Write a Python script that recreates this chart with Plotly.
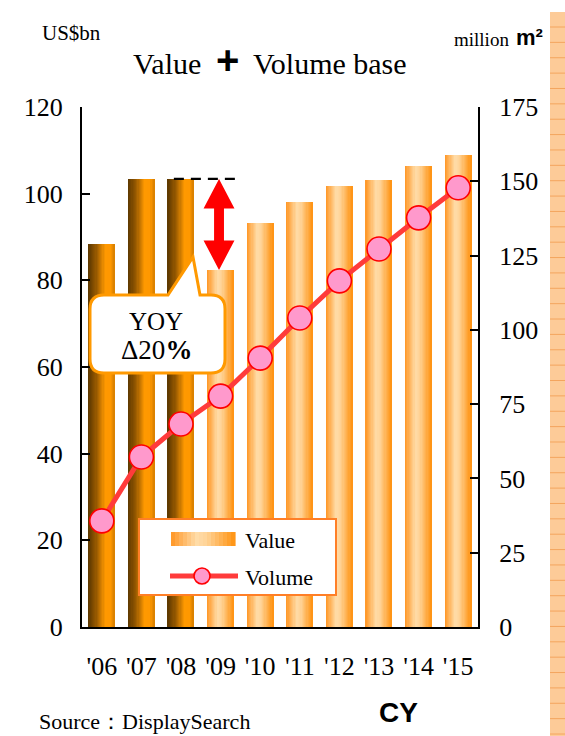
import plotly.graph_objects as go

# ---- data -------------------------------------------------------------
years = ["'06", "'07", "'08", "'09", "'10", "'11", "'12", "'13", "'14", "'15"]
value_usd_bn = [88.4, 103.5, 103.4, 82.4, 93.3, 98.1, 101.8, 103.2, 106.4, 108.9]
volume_mm2 = [35.7, 57.2, 68.3, 77.7, 90.5, 104.0, 116.5, 127.2, 137.7, 147.8]
actual = [True, True, True, False, False, False, False, False, False, False]
left_ticks = [0, 20, 40, 60, 80, 100, 120]
right_ticks = [0, 25, 50, 75, 100, 125, 150, 175]
yoy_label = "YOY"
yoy_change = "Δ20<b>%</b>"

# ---- page geometry ----------------------------------------------------
W, H = 565, 736
L, R, T, B = 82, 87, 107, 109
PW, PH = W - L - R, H - T - B
SERIF = "Liberation Serif"
SANS = "Liberation Sans"


def px(x):
    return (x - L) / PW


def py(y):
    return (H - B - y) / PH


def blend(stops, t):
    for (p0, c0), (p1, c1) in zip(stops, stops[1:]):
        if p0 <= t <= p1:
            f = (t - p0) / (p1 - p0) if p1 > p0 else 0
            r, g, b = (round(a + (bb - a) * f) for a, bb in zip(c0, c1))
            return f"rgb({r},{g},{b})"
    c = stops[-1][1]
    return f"rgb({c[0]},{c[1]},{c[2]})"


def label(x, y, text, size, family=SERIF, xanchor="center"):
    return dict(x=px(x), y=py(y), xref="paper", yref="paper", text=text,
                showarrow=False, xanchor=xanchor, yanchor="middle",
                font=dict(family=family, size=size, color="black"))


DARK = [(0.0, (92, 56, 0)), (0.3, (150, 88, 0)), (0.65, (255, 153, 0)),
        (0.85, (255, 152, 0)), (1.0, (214, 126, 0))]
LIGHT = [(0.0, (255, 150, 36)), (0.4, (255, 220, 168)), (0.55, (255, 212, 152)),
         (1.0, (255, 146, 16))]

fig = go.Figure()

# ---- value bars, shaded left-to-right in thin slices ------------------
N = 22
bar_w = 0.66
slice_w = bar_w / N
for i in range(N):
    t = (i + 0.5) / N
    cols = [blend(DARK if a else LIGHT, t) for a in actual]
    w = slice_w * (1.35 if i < N - 1 else 1.0)
    fig.add_trace(go.Bar(
        x=years, y=value_usd_bn, yaxis="y",
        width=[w] * len(years), offset=[-bar_w / 2 + i * slice_w] * len(years),
        marker=dict(color=cols, line=dict(width=0)),
        showlegend=False, hoverinfo="skip",
    ))

# ---- volume line --------------------------------------------------------
fig.add_trace(go.Scatter(
    x=years, y=volume_mm2, yaxis="y2", mode="lines+markers",
    line=dict(color="#FF3B3B", width=5),
    marker=dict(size=24, color="#FF99CC", line=dict(color="#FF0000", width=1.6)),
    showlegend=False, hoverinfo="skip",
))

shapes = []
annotations = []

# ---- decorative strip on the right edge ------------------------------
shapes.append(dict(type="rect", xref="paper", yref="paper",
                   x0=px(550), x1=px(566), y0=py(12), y1=py(737),
                   fillcolor="#FDCB98", line=dict(width=0), layer="below"))
k = 0
while 27 + k * 15.37 < 736:
    yy = 27 + k * 15.37
    shapes.append(dict(type="line", xref="paper", yref="paper",
                       x0=px(550), x1=px(566), y0=py(yy), y1=py(yy),
                       line=dict(color="#F4A55E", width=1), layer="below"))
    k += 1

# ---- drop from last actual year to first forecast year -----------------
last = actual.index(False) - 1
top, bot = value_usd_bn[last], value_usd_bn[last + 1]
shapes.append(dict(type="line", xref="x", yref="y",
                   x0=last - 0.18, x1=last + 1.49, y0=top, y1=top,
                   line=dict(color="black", width=2.2, dash="10px,7px"),
                   layer="above"))
xc = last + 1 - 0.04
hw, sw, hh = 0.39, 0.125, 6.8
pts = [(xc, top), (xc + hw, top - hh), (xc + sw, top - hh), (xc + sw, bot + hh),
       (xc + hw, bot + hh), (xc, bot), (xc - hw, bot + hh), (xc - sw, bot + hh),
       (xc - sw, top - hh), (xc - hw, top - hh)]
shapes.append(dict(type="path", xref="x", yref="y",
                   path="M " + " L ".join(f"{a},{b}" for a, b in pts) + " Z",
                   fillcolor="#FF0000", line=dict(width=0), layer="above"))

# ---- callout bubble -----------------------------------------------------
bx0, bx1, by0, by1, rr = 90, 225, 295, 373, 14
tip = (193, 257)
seq = [
    ("M", (bx0 + rr, by0)), ("L", (168, by0)), ("L", tip), ("L", (200, by0)),
    ("L", (bx1 - rr, by0)), ("Q", (bx1, by0), (bx1, by0 + rr)),
    ("L", (bx1, by1 - rr)), ("Q", (bx1, by1), (bx1 - rr, by1)),
    ("L", (bx0 + rr, by1)), ("Q", (bx0, by1), (bx0, by1 - rr)),
    ("L", (bx0, by0 + rr)), ("Q", (bx0, by0), (bx0 + rr, by0)),
]
path = ""
for cmd, *pp in seq:
    path += cmd + " " + " ".join(f"{px(a)},{py(b)}" for a, b in pp) + " "
shapes.append(dict(type="path", xref="paper", yref="paper", path=path + "Z",
                   fillcolor="white", line=dict(color="#FF9900", width=3),
                   layer="above"))
annotations.append(label(156, 321, yoy_label, 25))
annotations.append(label(156, 350, yoy_change, 27))

# ---- legend box -------------------------------------------------------
shapes.append(dict(type="rect", xref="paper", yref="paper",
                   x0=px(139), x1=px(336), y0=py(595), y1=py(519),
                   fillcolor="white", line=dict(color="#FF7F27", width=2),
                   layer="above"))
sx0, sx1 = 171, 235
ns = 16
for i in range(ns):
    a = sx0 + (sx1 - sx0) * i / ns
    b = sx0 + (sx1 - sx0) * (i + 1) / ns
    shapes.append(dict(type="rect", xref="paper", yref="paper",
                       x0=px(a), x1=px(b + 0.6), y0=py(546), y1=py(532),
                       fillcolor=blend(LIGHT, (i + 0.5) / ns),
                       line=dict(width=0), layer="above"))
shapes.append(dict(type="line", xref="paper", yref="paper",
                   x0=px(170), x1=px(238), y0=py(576), y1=py(576),
                   line=dict(color="#FF3B3B", width=5), layer="above"))
shapes.append(dict(type="circle", xref="paper", yref="paper",
                   x0=px(194), x1=px(210), y0=py(584), y1=py(568),
                   fillcolor="#FF99CC", line=dict(color="#FF0000", width=1.6),
                   layer="above"))
annotations.append(label(243, 540, "Value", 22, xanchor="left"))
annotations.append(label(243, 577, "Volume", 22, xanchor="left"))

# ---- titles and unit labels -------------------------------------------
annotations.append(label(131, 63, "Value", 30, xanchor="left"))
annotations.append(label(227, 60, "<b>+</b>", 40, family=SANS))
annotations.append(label(251, 63, "Volume base", 30, xanchor="left"))
annotations.append(label(40, 33, "US$bn", 21, xanchor="left"))
annotations.append(label(511, 39, "million", 19, xanchor="right"))
annotations.append(label(514, 37, "<b>m²</b>", 22, family=SANS, xanchor="left"))
annotations.append(label(398, 712, "<b>CY</b>", 28, family=SANS))
annotations.append(label(37, 721, "Source：DisplaySearch", 22, xanchor="left"))

axis_common = dict(showgrid=False, zeroline=False, showline=True,
                   linecolor="black", linewidth=2, ticks="inside", ticklen=8,
                   tickwidth=2, tickcolor="black",
                   tickfont=dict(family=SERIF, size=26, color="black"))

fig.update_layout(
    width=W, height=H, margin=dict(l=L, r=R, t=T, b=B),
    paper_bgcolor="white", plot_bgcolor="white",
    barmode="overlay", bargap=0, showlegend=False,
    xaxis=dict(type="category", categoryorder="array", categoryarray=years,
               range=[-0.5, len(years) - 0.5], showline=True, linecolor="black",
               linewidth=2, ticks="", showgrid=False, ticklabelstandoff=15,
               tickfont=dict(family=SERIF, size=26, color="black")),
    yaxis=dict(range=[0, 120], tickvals=left_ticks, ticklabelstandoff=12,
               **axis_common),
    yaxis2=dict(range=[0, 175], tickvals=right_ticks, overlaying="y",
                side="right", ticklabelstandoff=14, **axis_common),
    shapes=shapes, annotations=annotations,
)

fig.write_html("out.html")
